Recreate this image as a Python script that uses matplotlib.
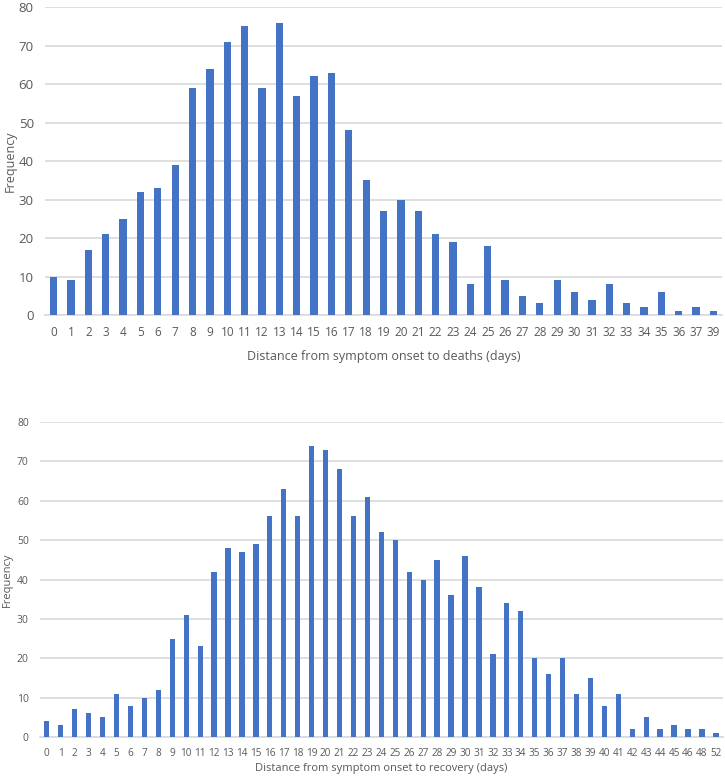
import matplotlib
matplotlib.use('Agg')
import matplotlib.pyplot as plt
import numpy as np

# deaths chart
death_days = ['0', '1', '2', '3', '4', '5', '6', '7', '8', '9', '10', '11', '12', '13',
              '14', '15', '16', '17', '18', '19', '20', '21', '22', '23', '24', '25', '26',
              '27', '28', '29', '30', '31', '32', '33', '34', '35', '36', '37', '39']
death_freq = [10, 9, 17, 21, 25, 32, 33, 39, 59, 64, 71, 75, 59, 76, 57, 62, 63, 48, 35,
              27, 30, 27, 21, 19, 8, 18, 9, 5, 3, 9, 6, 4, 8, 3, 2, 6, 1, 2, 1]

# recovery chart
recov_days = ['0', '1', '2', '3', '4', '5', '6', '7', '8', '9', '10', '11', '12', '13',
              '14', '15', '16', '17', '18', '19', '20', '21', '22', '23', '24', '25', '26',
              '27', '28', '29', '30', '31', '32', '33', '34', '35', '36', '37', '38', '39',
              '40', '41', '42', '43', '44', '45', '46', '48', '52']
recov_freq = [4, 3, 7, 6, 5, 11, 8, 10, 12, 25, 31, 23, 42, 48, 47, 49, 56, 63, 56, 74,
              73, 68, 56, 61, 52, 50, 42, 40, 45, 36, 46, 38, 21, 34, 32, 20, 16, 20, 11,
              15, 8, 11, 2, 5, 2, 3, 2, 2, 1]

plt.rcParams['font.family'] = ['Open Sans', 'DejaVu Sans']
bar_col = '#4472C4'
txt_col = '#595959'
grid_col = '#D9D9D9'

fig = plt.figure(figsize=(7.25, 7.81), dpi=100)


def draw(ax, days, freq, width, tick_fs, y_fs, lab_fs, xlabel, lab_pad):
    x = np.arange(len(days))
    ax.bar(x, freq, width=width, color=bar_col, zorder=3)
    ax.set_xlim(-0.5, len(days) - 0.5)
    ax.set_ylim(0, 80)
    ax.set_yticks(range(0, 81, 10))
    ax.set_xticks(x)
    ax.set_xticklabels(days)
    ax.grid(axis='y', color=grid_col, linewidth=1.2, zorder=0)
    for s in ['top', 'right', 'left']:
        ax.spines[s].set_visible(False)
    ax.spines['bottom'].set_color(grid_col)
    ax.spines['bottom'].set_linewidth(1.2)
    ax.tick_params(axis='both', length=0, colors=txt_col)
    ax.tick_params(axis='x', labelsize=tick_fs, pad=8)
    ax.tick_params(axis='y', labelsize=y_fs, pad=8)
    ax.set_ylabel('Frequency', fontsize=lab_fs, color=txt_col)
    ax.set_xlabel(xlabel, fontsize=lab_fs, color=txt_col, labelpad=lab_pad)


ax1 = fig.add_axes([0.062, 0.5967, 0.934, 0.394])
draw(ax1, death_days, death_freq, 0.42, 8.5, 9.5, 9, 'Distance from symptom onset to deaths (days)', 8)
ax1.yaxis.set_label_coords(-0.042, 0.5)

ax2 = fig.add_axes([0.055, 0.0563, 0.942, 0.4034])
draw(ax2, recov_days, recov_freq, 0.38, 7.2, 7.5, 8, 'Distance from symptom onset to recovery (days)', 3)
ax2.yaxis.set_label_coords(-0.04, 0.5)

plt.savefig('out.png', dpi=100)
